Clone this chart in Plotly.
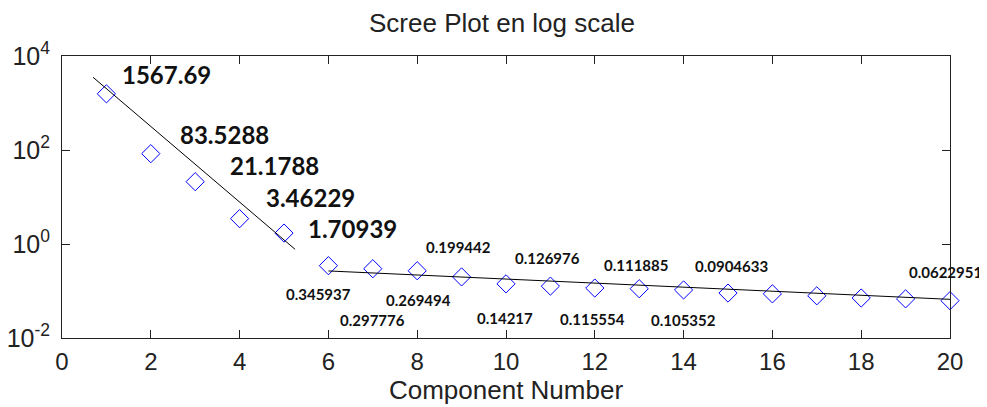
import math
import plotly.graph_objects as go

components = list(range(1, 21))
eigenvalues = [1567.69, 83.5288, 21.1788, 3.46229, 1.70939, 0.345937, 0.297776,
               0.269494, 0.199442, 0.14217, 0.126976, 0.115554, 0.111885,
               0.105352, 0.0904633, 0.087, 0.079, 0.071, 0.068, 0.0622951]

# trend lines
trend1_x = [0.7, 5.25]
trend1_y = [3520.0, 0.77]
trend2_x = [6, 20]
trend2_y = [0.267, 0.0665]

# labelled components and their text
label_components = [1, 2, 3, 4, 5, 6, 7, 8, 9, 10, 11, 12, 13, 14, 15, 20]
label_texts = ["1567.69", "83.5288", "21.1788", "3.46229", "1.70939", "0.345937",
               "0.297776", "0.269494", "0.199442", "0.14217", "0.126976",
               "0.115554", "0.111885", "0.105352", "0.0904633", "0.0622951"]

# label offsets (pixels) - style
label_dx = [60, 74, 79, 71, 68, -10, 0, 1, -3, -1, -3, -2, -3, 0, 3, -5]
label_dy = [19, 19, 16, 21, 5, -28, -51, -29, 30, -34, 28, -31, 24, -30, 27, 29]

fig = go.Figure()
fig.add_trace(go.Scatter(
    x=components, y=eigenvalues, mode="markers", cliponaxis=False,
    marker=dict(symbol="diamond-open", size=14, color="#0000ff",
                line=dict(width=1, color="#0000ff")),
    showlegend=False))
fig.add_trace(go.Scatter(x=trend1_x, y=trend1_y, mode="lines",
                         line=dict(color="black", width=1), showlegend=False))
fig.add_trace(go.Scatter(x=trend2_x, y=trend2_y, mode="lines", cliponaxis=False,
                         line=dict(color="black", width=1), showlegend=False))

for i, (c, t) in enumerate(zip(label_components, label_texts)):
    v = eigenvalues[c - 1]
    big = i < 5
    fig.add_annotation(
        x=c, y=math.log10(v), text=t, showarrow=False,
        xshift=label_dx[i], yshift=label_dy[i],
        font=dict(family="Lato", size=24 if big else 15, color="#111111",
                  weight="bold"))

W, H = 979, 399
fig.update_layout(
    width=W, height=H,
    margin=dict(l=54, r=37, t=48, b=69),
    paper_bgcolor="white", plot_bgcolor="white",
    title=dict(text="Scree Plot en log scale", x=(502 - 8) / W, xanchor="center",
               y=1 - 15 / H, yanchor="middle",
               font=dict(family="Liberation Sans", size=26, color="#222222")),
    font=dict(family="Liberation Sans", color="#222222"),
)
fig.update_xaxes(
    range=[0, 20], tickvals=list(range(0, 21, 2)), ticks="inside", ticklen=8,
    tickcolor="#222222", showline=True, linecolor="#222222", linewidth=1,
    mirror="ticks", showgrid=False, zeroline=False, automargin=False,
    tickfont=dict(size=24), ticklabelstandoff=2,
    title=dict(text="Component Number", font=dict(size=26), standoff=2))
fig.update_yaxes(
    type="log", range=[-2, 4], tickvals=[0.01, 1, 100, 10000],
    ticktext=["10<sup>-2</sup>", "10<sup>0</sup>", "10<sup>2</sup>", "10<sup>4</sup>"],
    ticks="inside", ticklen=8, tickcolor="#222222", showline=True,
    linecolor="#222222", linewidth=1, mirror="ticks", showgrid=False,
    zeroline=False, automargin=False, tickfont=dict(size=25), ticklabelstandoff=6)

fig.write_html("out.html")
